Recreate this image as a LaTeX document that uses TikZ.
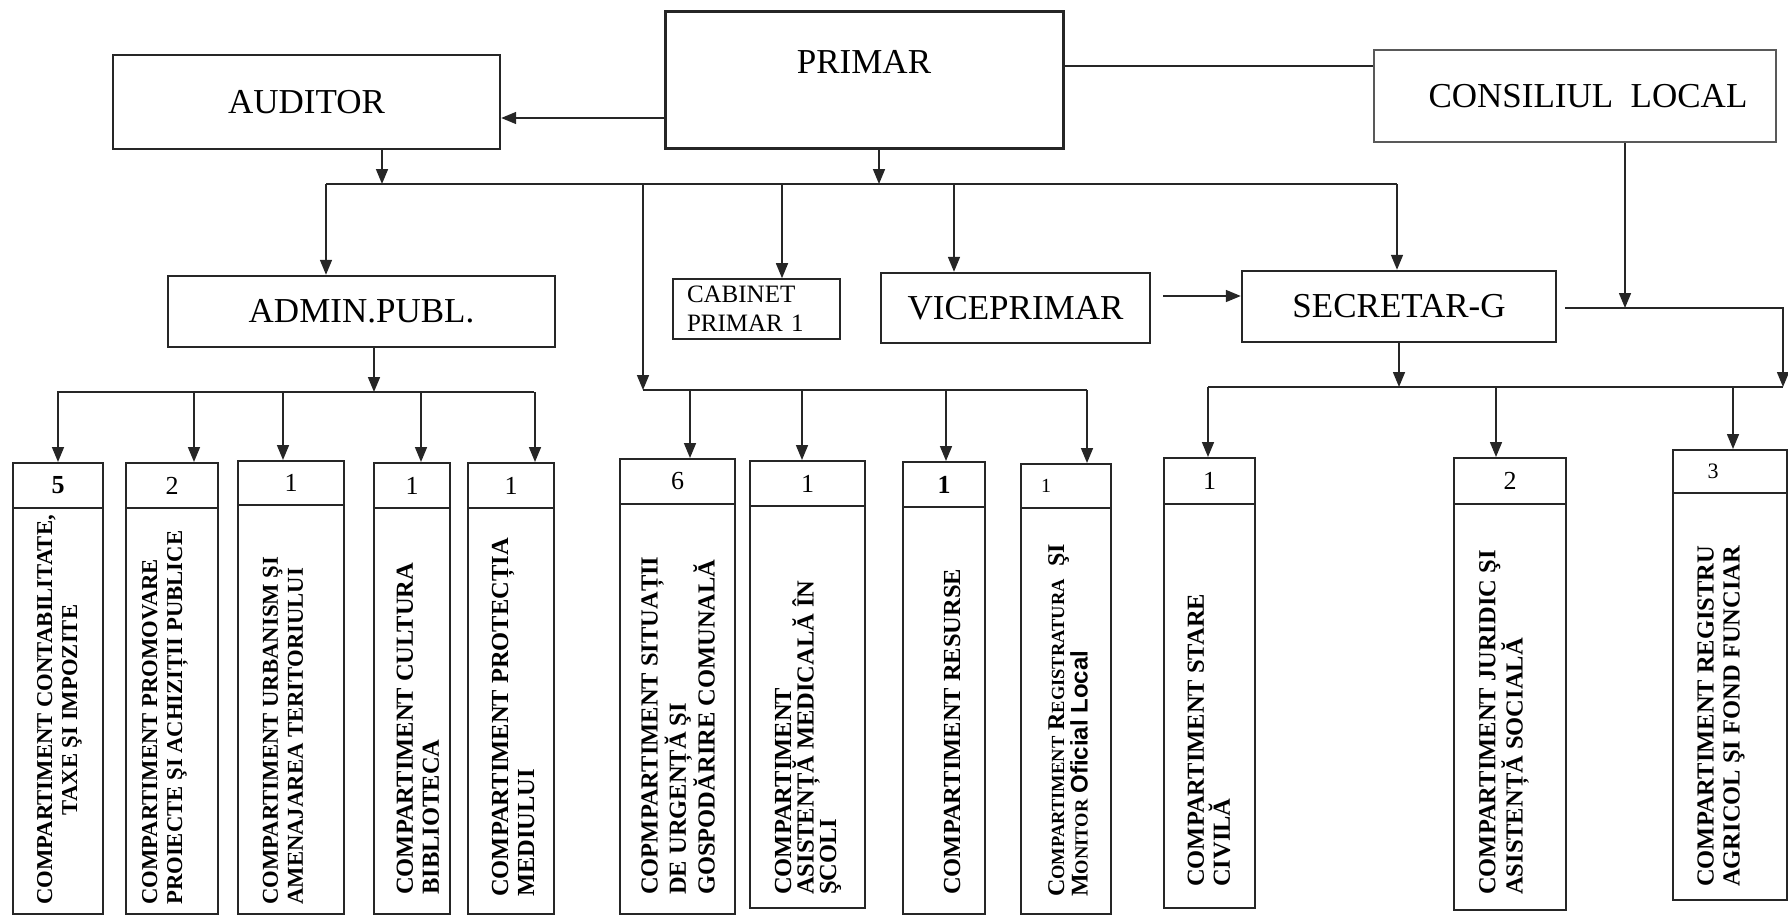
\documentclass[tikz,border=0pt]{standalone}
\usepackage{fontspec}
\setmainfont{Liberation Serif}
\setsansfont{Liberation Sans}
\usetikzlibrary{arrows.meta}

% fake small caps and shifted numbers
\newcommand{\scap}[2]{#1{\fontsize{18.5}{21.5}\selectfont #2}}
\newcommand{\offnum}[2]{\makebox[#1][l]{\makebox[0pt]{#2}}}

\begin{document}
\begin{tikzpicture}[x=1pt,y=-1pt,
  ink/.style={draw=black!85, line width=2pt},
  topbox/.style={ink, line width=2.4pt, inner sep=0pt, font=\fontsize{35}{40}\selectfont},
  numbox/.style={ink, inner sep=0pt, font=\fontsize{26}{28}\selectfont},
  compbox/.style={ink, inner sep=0pt},
  vtext/.style={rotate=90, anchor=west, inner sep=0pt, align=left, font=\bfseries\fontsize{24.5}{26}\selectfont},
  vsmall/.style={font=\bfseries\fontsize{22.7}{25}\selectfont},
  wire/.style={draw=black!85, line width=1.6pt},
  arr/.style={wire, -{Triangle[length=15pt,width=12pt]}}]
  \useasboundingbox (0,0) rectangle (1788,914);

  % top level
  \node[topbox, line width=3pt, minimum width=398pt, text height=62.6pt, text depth=74.4pt] (primar) at (864,79.5) {PRIMAR};
  \node[topbox, minimum width=387pt, minimum height=94pt] (auditor) at (306.5,102) {AUDITOR};
  \node[topbox, draw=black!65, minimum width=402pt, minimum height=92pt] (consiliu) at (1575,96) {\hspace*{26pt}CONSILIUL~ LOCAL};

  % second level
  \node[topbox, minimum width=387pt, minimum height=71pt] (admin) at (361.5,311.5) {ADMIN.PUBL.};
  \node[topbox, line width=1.6pt, minimum width=167pt, minimum height=60pt, text width=139pt, align=left, font=\fontsize{25}{29}\selectfont] (cabinet) at (756.5,309) {CABINET\\PRIMAR 1};
  \node[topbox, minimum width=269pt, minimum height=70pt] (vice) at (1015.5,308) {VICEPRIMAR};
  \node[topbox, minimum width=314pt, minimum height=71pt] (secretar) at (1399,306.5) {SECRETAR-G};

  % links of the top level
  \draw[arr] ([yshift=-38.5pt]primar.west) coordinate (pa) -- (pa -| auditor.east);
  \draw[wire] ([yshift=13.5pt]primar.east) coordinate (pc) -- (pc -| consiliu.west);

  \coordinate (busL) at (326,184);
  \coordinate (busR) at (1397,184);
  \coordinate (audx) at (382,184);
  \coordinate (prx) at (879,184);
  \coordinate (cabx) at (782,184);
  \coordinate (vicx) at (954,184);
  \draw[wire] (busL) -- (busR);
  \draw[arr] (audx |- auditor.south) -- (audx);
  \draw[arr] (prx |- primar.south) -- (prx);
  \draw[arr] (busL) -- (busL |- admin.north);
  \draw[arr] (cabx) -- (cabx |- cabinet.north);
  \draw[arr] (vicx) -- (vicx |- vice.north);
  \draw[arr] (busR) -- (busR |- secretar.north);
  \draw[arr, shorten <=12pt] ([yshift=12pt]vice.east) coordinate (vs) -- (vs -| secretar.west);

  % buses of the bottom level
  \coordinate (lbusL) at (57,392);
  \coordinate (lbusR) at (534,392);
  \coordinate (adx) at (374,392);
  \coordinate (mbusL) at (643,390);
  \coordinate (mbusR) at (1087,390);
  \coordinate (rbusL) at (1208,387);
  \coordinate (rbusR) at (1783,387);
  \coordinate (clx) at (1625,308);
  \coordinate (srx) at (1783,308);

  \draw[wire] (lbusL) -- (lbusR);
  \draw[arr] (adx |- admin.south) -- (adx);
  \draw[arr] (busL -| mbusL) -- (mbusL);
  \draw[wire] (mbusL) -- (mbusR);
  \draw[wire] (rbusL) -- (rbusR);
  \draw[arr] (secretar.south) -- (secretar.south |- rbusL);
  \draw[arr] (clx |- consiliu.south) -- (clx);
  \draw[arr, shorten <=8pt] (secretar.east |- srx) -- (srx) -- (rbusR);

  % compartments: number box and text box
  \foreach \n/\lx/\rx/\tp/\nb/\bt/\num in {
    1/13/103/463/508/914/{\textbf{5}},
    2/126/218/463/508/914/2,
    3/238/344/461/505/914/1,
    4/374/450/463/508/914/1,
    5/468/554/463/508/914/1,
    6/620/735/459/504/914/6,
    7/750/865/461/506/908/1,
    8/903/985/462/507/914/{\textbf{1}},
    9/1021/1111/464/508/914/{\offnum{40pt}{\fontsize{20}{20}\selectfont 1}},
    10/1164/1255/458/504/908/1,
    11/1454/1566/458/504/910/2,
    12/1673/1787/450/493/900/{\offnum{34pt}{\fontsize{22}{22}\selectfont 3}}
  }
  {
    \node[numbox, minimum width=\rx-\lx, minimum height=\nb-\tp] (num\n) at ({(\lx+\rx)/2},{(\tp+\nb)/2}) {\num};
    \node[compbox, minimum width=\rx-\lx, minimum height=\bt-\nb] (comp\n) at ({(\lx+\rx)/2},{(\nb+\bt)/2}) {};
  }

  % rotated texts
  \node[vtext, vsmall, align=center] (txt1) at (59.5,905) {COMPARTIMENT CONTABILITATE,\\TAXE ŞI IMPOZITE};
  \node[vtext, vsmall] (txt2) at (165,905) {COMPARTIMENT PROMOVARE\\PROIECTE ŞI ACHIZIȚII PUBLICE};
  \node[vtext, vsmall] (txt3) at (283,905) {COMPARTIMENT URBANISM ŞI\\AMENAJAREA TERITORIULUI};
  \node[vtext] (txt4) at (418,895) {COMPARTIMENT CULTURA\\BIBLIOTECA};
  \node[vtext] (txt5) at (513,897) {COMPARTIMENT PROTECȚIA\\MEDIULUI};
  \node[vtext, font=\bfseries\fontsize{24.5}{28.5}\selectfont] (txt6) at (678,895) {COPMPARTIMENT SITUAȚII\\DE URGENȚĂ ŞI\\GOSPODĂRIRE COMUNALĂ};
  \node[vtext, font=\bfseries\fontsize{24.5}{22.5}\selectfont] (txt7) at (808,895) {COMPARTIMENT\\ASISTENȚĂ MEDICALĂ ÎN\\ŞCOLI};
  \node[vtext] (txt8) at (952,895) {COMPARTIMENT RESURSE};
  \node[vtext, font=\bfseries\fontsize{24}{21.5}\selectfont] (txt9) at (1068,897) {\scap{C}{OMPARTIMENT} \scap{R}{EGISTRATURA}~ ŞI\\\scap{M}{ONITOR} {\sffamily Oficial Local}};
  \node[vtext] (txt10) at (1209,887) {COMPARTIMENT STARE\\CIVILĂ};
  \node[vtext] (txt11) at (1504,895) {COMPARTIMENT JURIDIC ŞI\\ASISTENȚĂ SOCIALĂ};
  \node[vtext] (txt12) at (1721,887) {COMPARTIMENT REGISTRU\\AGRICOL ŞI FOND FUNCIAR};

  % arrows from the buses
  \foreach \n/\ax/\busy in {1/58/392, 2/194/392, 3/283/392, 4/421/392, 5/535/392,
    6/690/390, 7/802/390, 8/946/390, 9/1087/390, 10/1208/387, 11/1496/387, 12/1733/387}
  {
    \coordinate (drop\n) at (\ax,\busy);
    \draw[arr] (drop\n) -- (drop\n |- num\n.north);
  }
\end{tikzpicture}
\end{document}
